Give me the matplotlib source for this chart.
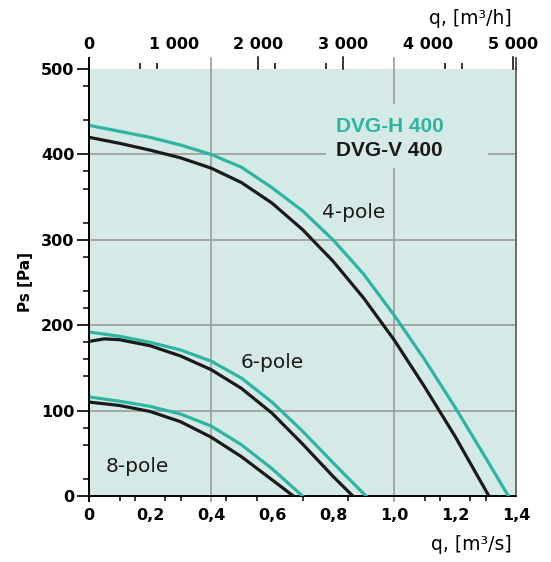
import numpy as np
import matplotlib.pyplot as plt
from matplotlib.patches import Rectangle

# Кривые вентилятора (q в м3/с, Ps в Па)
q_4h = [0, 0.1, 0.2, 0.3, 0.4, 0.5, 0.6, 0.7, 0.8, 0.9, 1.0, 1.1, 1.2, 1.3, 1.375]
ps_4h = [434, 427, 420, 411, 400, 385, 361, 334, 300, 260, 212, 160, 104, 45, 0]
q_4v = [0, 0.1, 0.2, 0.3, 0.4, 0.5, 0.6, 0.7, 0.8, 0.9, 1.0, 1.1, 1.2, 1.3, 1.311]
ps_4v = [420, 413, 405, 396, 384, 367, 343, 312, 275, 232, 183, 128, 70, 7, 0]

q_6h = [0, 0.1, 0.2, 0.3, 0.4, 0.5, 0.6, 0.7, 0.8, 0.908]
ps_6h = [192, 187, 180, 171, 158, 138, 110, 76, 39, 0]
q_6v = [0, 0.05, 0.1, 0.2, 0.3, 0.4, 0.5, 0.6, 0.7, 0.8, 0.865]
ps_6v = [181, 184, 183, 176, 164, 148, 126, 97, 61, 23, 0]

q_8h = [0, 0.1, 0.2, 0.3, 0.4, 0.5, 0.6, 0.70]
ps_8h = [116, 111, 105, 96, 82, 60, 32, 0]
q_8v = [0, 0.1, 0.2, 0.3, 0.4, 0.5, 0.6, 0.67]
ps_8v = [110, 106, 99, 87, 69, 46, 19, 0]

# Подписи осей
x_labels = ['0', '0,2', '0,4', '0,6', '0,8', '1,0', '1,2', '1,4']
x_label_pos = [0, 0.2, 0.4, 0.6, 0.8, 1.0, 1.2, 1.4]
x_minor = [0.1, 0.15, 0.25, 0.3, 0.4, 0.45, 0.55, 0.7, 0.85, 1.0, 1.1, 1.15, 1.25, 1.3]
y_major = [0, 100, 200, 300, 400, 500]
y_minor = [20, 60, 80, 140, 160, 180, 220, 240, 280, 320, 360, 380, 440, 480]
top_labels = ['0', '1 000', '2 000', '3 000', '4 000', '5 000']
top_label_pos = [0, 1000, 2000, 3000, 4000, 5000]
top_long = [2000, 3000, 5000]
top_short = [600, 800, 2200, 2800, 4200, 4400]

teal = '#2db5a3'
black = '#1a1a1a'
bg = '#d5eae7'
grid = '#9b9b9b'

fig = plt.figure(figsize=(5.51, 5.62), dpi=100)
ax = fig.add_axes([89 / 551, 1 - 496 / 562, 427 / 551, 427 / 562])
ax.set_facecolor(bg)
ax.set_xlim(0, 1.4)
ax.set_ylim(0, 500)

# сетка
for y in [100, 200, 300, 400]:
    ax.axhline(y, color=grid, lw=1.2, zorder=1)
for x in [0.4, 1.0]:
    ax.plot([x, x], [-6, 513], color=grid, lw=1.2, zorder=1, clip_on=False)

# фон под подписью серий
ax.add_patch(Rectangle((0.777, 384), 0.531, 75, facecolor=bg, edgecolor='none', zorder=2))

# кривые
lw = 2.3
kw = dict(lw=lw, solid_joinstyle='round')
ax.plot(q_4h, ps_4h, color=teal, zorder=4, **kw)
ax.plot(q_4v, ps_4v, color=black, zorder=5, **kw)
ax.plot(q_6h, ps_6h, color=teal, zorder=4, **kw)
ax.plot(q_6v, ps_6v, color=black, zorder=5, **kw)
ax.plot(q_8h, ps_8h, color=teal, zorder=4, **kw)
ax.plot(q_8v, ps_8v, color=black, zorder=5, **kw)

ax.text(0.81, 433, 'DVG-H 400', color=teal, fontsize=15, fontweight='bold',
        family='Liberation Sans', va='center', ha='left', zorder=6)
ax.text(0.81, 405, 'DVG-V 400', color=black, fontsize=15, fontweight='bold',
        family='Liberation Sans', va='center', ha='left', zorder=6)
ax.text(0.764, 332, '4-pole', color=black, fontsize=14.5, va='center', ha='left', zorder=6)
ax.text(0.498, 156, '6-pole', color=black, fontsize=14.5, va='center', ha='left', zorder=6)
ax.text(0.056, 35, '8-pole', color=black, fontsize=14.5, va='center', ha='left', zorder=6)

# рамка
ax.spines['top'].set_visible(False)
ax.spines['right'].set_color('#555555')
ax.spines['right'].set_linewidth(1.2)
ax.spines['left'].set_linewidth(1.4)
ax.spines['bottom'].set_linewidth(1.4)
ax.plot([0, 0], [-6, 513], color='black', lw=1.4, clip_on=False, zorder=7)
ax.plot([1.4, 1.4], [500, 513], color='#333333', lw=1.2, clip_on=False, zorder=7)

# нижняя ось
ax.set_xticks(x_label_pos)
ax.set_xticklabels(x_labels)
ax.set_xticks(x_minor, minor=True)
ax.tick_params(axis='x', which='major', length=0, pad=9, labelsize=11.5)
ax.tick_params(axis='x', which='minor', length=3.8, width=1.1, color='black')

# левая ось
ax.set_yticks(y_major)
ax.set_yticks(y_minor, minor=True)
ax.tick_params(axis='y', which='major', length=8.6, width=1.2, pad=2, labelsize=11.5)
ax.tick_params(axis='y', which='minor', length=4.3, width=1.1)
for lab in ax.get_xticklabels() + ax.get_yticklabels():
    lab.set_fontweight('bold')

# верхняя ось, м3/ч
top = ax.secondary_xaxis('top', functions=(lambda q: q * 3600, lambda h: h / 3600))
top.set_xticks(top_label_pos)
top.set_xticklabels(top_labels, fontweight='bold', fontsize=11.5)
top.set_xticks(top_short, minor=True)
top.tick_params(axis='x', which='major', length=0, pad=12)
top.tick_params(axis='x', which='minor', length=4.3, width=1.1)
top.spines['top'].set_visible(False)
trans = ax.get_xaxis_transform()
for h in top_long:
    ax.plot([h / 3600, h / 3600], [1.0, 1.028], color='black', lw=1.1,
            transform=trans, clip_on=False, zorder=7)

ax.set_ylabel('Ps [Pa]', fontsize=11, fontweight='bold', labelpad=6)
fig.text(512 / 551, 1 - 19 / 562, 'q, [m\u00b3/h]', fontsize=13.5, ha='right', va='center')
fig.text(512 / 551, 1 - 545 / 562, 'q, [m\u00b3/s]', fontsize=13.5, ha='right', va='center')

plt.savefig('out.png', dpi=100)
